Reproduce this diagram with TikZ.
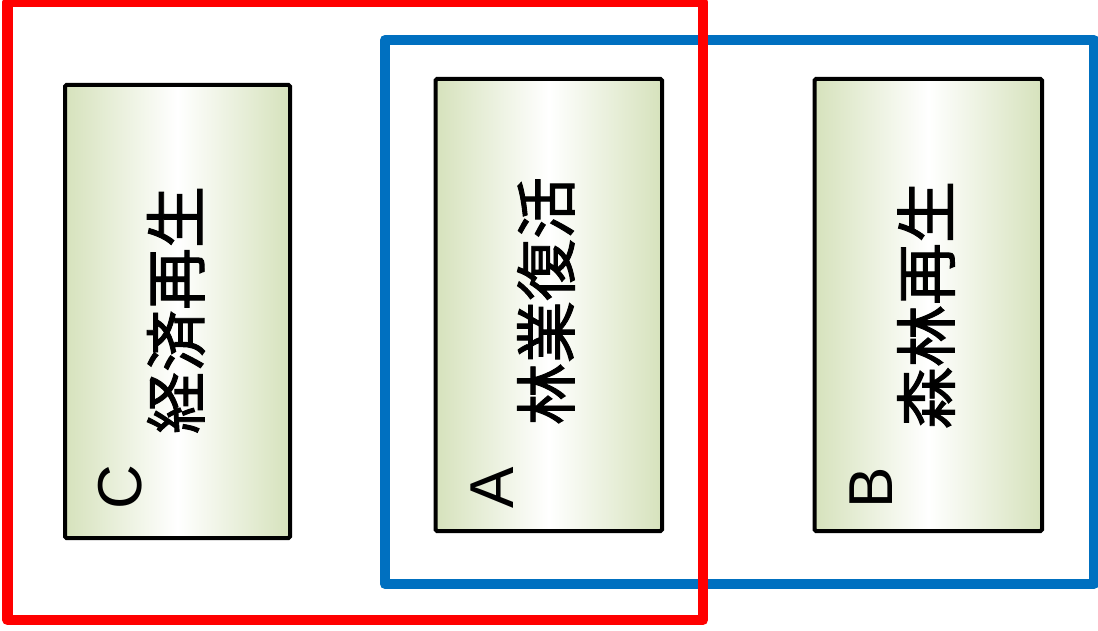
\documentclass[tikz,border=0pt]{standalone}
\usepackage{fontspec}
\setmainfont{Liberation Sans}
\newfontfamily\cjk{Noto Sans CJK JP}[FakeBold=1.5]
\definecolor{boxgreen}{RGB}{214,226,188}
\definecolor{bluebox}{RGB}{0,112,192}
\definecolor{redbox}{RGB}{255,0,0}
\begin{document}
\begin{tikzpicture}[x=1pt,y=-1pt,
  itembox/.style={draw=black,line width=4pt,rounded corners=1.5pt,left color=boxgreen,right color=boxgreen,middle color=white,shading angle=90},
  letter/.style={rotate=90,inner sep=0pt,font=\fontsize{62}{67}\selectfont},
  word/.style={rotate=90,inner sep=0pt,font=\cjk\fontsize{62}{67}\selectfont},
  frame/.style={line width=10.5pt,line join=round}]
\useasboundingbox (0,0) rectangle (1098,631);
% blue frame (under red)
\draw[frame,draw=bluebox,line width=10pt] (385,40) rectangle (1094,584);
% red frame
\draw[frame,draw=redbox] (7.5,2) rectangle (703,620);
% boxes
\path[itembox] (65,85) rectangle (290,538);
\path[itembox] (435.5,79) rectangle (662,531);
\path[itembox] (814.5,79) rectangle (1042,531);
% labels
\node[letter] (lc) at (120,487.5) {C};
\node[word] (wc) at (176,310) {経済再生};
\node[letter] (la) at (492,487.5) {A};
\node[word] (wa) at (546,301) {林業復活};
\node[letter] (lb) at (871,487.5) {B};
\node[word] (wb) at (926,305) {森林再生};
\end{tikzpicture}
\end{document}
